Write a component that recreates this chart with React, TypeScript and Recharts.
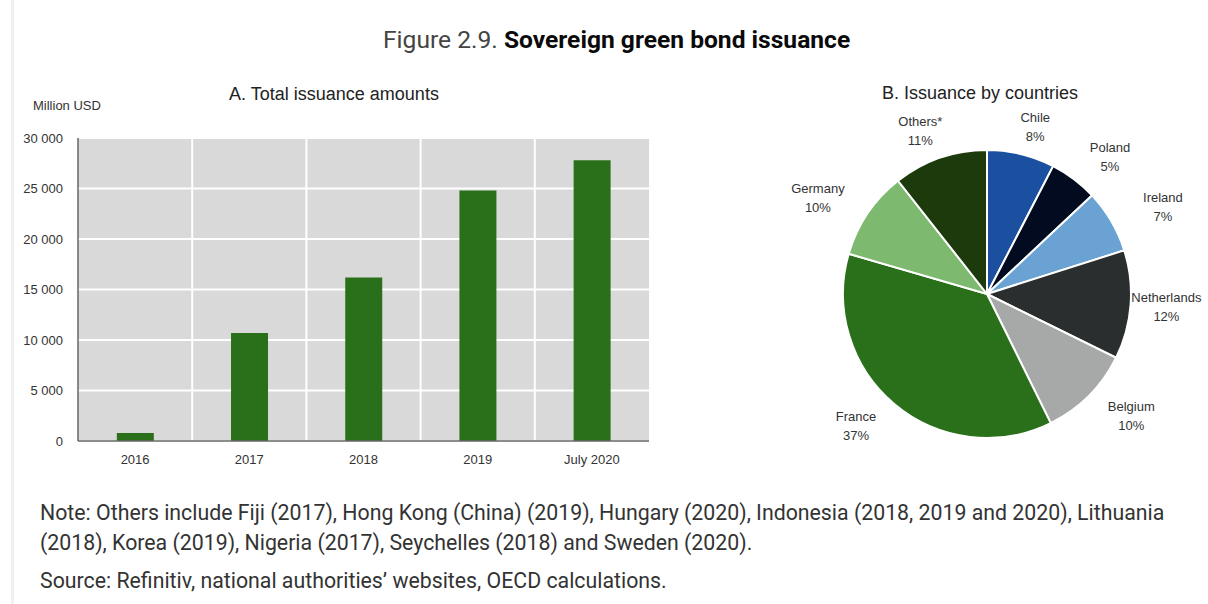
import { BarChart, Bar, XAxis, YAxis, CartesianGrid, PieChart, Pie, Cell } from 'recharts'

// Panel A: total issuance, million USD
const years = ['2016', '2017', '2018', '2019', 'July 2020']
const issuance = [800, 10700, 16200, 24800, 27800]
const yTicks = [0, 5000, 10000, 15000, 20000, 25000, 30000]

// Panel B: share by country, %
const countries = ['Chile', 'Poland', 'Ireland', 'Netherlands', 'Belgium', 'France', 'Germany', 'Others*']
const shares = [7.6, 5.4, 7.1, 12.2, 10.4, 36.8, 9.9, 10.6]
const shareLabels = ['8%', '5%', '7%', '12%', '10%', '37%', '10%', '11%']
const sliceColors = ['#1b50a1', '#020b1f', '#6aa2d3', '#2b2e2f', '#a6a9a7', '#2a701b', '#7db96f', '#1d3a0c']

const barData = years.map((year, i) => ({ year, value: issuance[i] }))
const pieData = countries.map((name, i) => ({ name, value: shares[i], pct: shareLabels[i] }))

const narrow = "'Liberation Sans Narrow', 'Arial Narrow', 'Liberation Sans', sans-serif"
const roboto = "Roboto, 'Noto Sans', sans-serif"

const fmt = (v: number) => v.toLocaleString('en-US').replace(/,/g, ' ')

const RAD = Math.PI / 180

function PieLabel(props: any) {
  const { cx, cy, midAngle, payload } = props
  // labels sit on an ellipse round the pie, wider than tall
  let x = cx + 204 * Math.cos(-midAngle * RAD)
  const y = cy + 172 * Math.sin(-midAngle * RAD)
  // keep the long right-hand label inside the page
  const half = payload.name.length * 3.6
  x = Math.min(x, 1208 - 760 - half - 2)
  return (
    <text x={x} y={y} textAnchor="middle" fill="#333" fontSize={13} fontFamily={narrow}>
      <tspan x={x} dy={-5}>{payload.name}</tspan>
      <tspan x={x} dy={19}>{payload.pct}</tspan>
    </text>
  )
}

export default function App() {
  return (
    <div style={{ position: 'absolute', left: 0, top: 0, width: 1208, height: 604, background: '#fff', overflow: 'hidden' }}>
      <div style={{ position: 'absolute', left: 11, top: 0, width: 3, height: 604, background: '#f3efeb' }} />

      <div style={{ position: 'absolute', left: 383, top: 25, whiteSpace: 'nowrap', fontFamily: roboto, fontSize: 24.6, color: '#444' }}>
        Figure 2.9. <span style={{ fontWeight: 700, color: '#0a0a0a' }}>Sovereign green bond issuance</span>
      </div>

      <div style={{ position: 'absolute', left: 0, top: 84, width: 668, textAlign: 'center', fontFamily: narrow, fontSize: 18, color: '#222' }}>
        A. Total issuance amounts
      </div>
      <div style={{ position: 'absolute', left: 33, top: 98, fontFamily: narrow, fontSize: 13, color: '#333' }}>
        Million USD
      </div>

      <div style={{ position: 'absolute', left: 0, top: 0 }}>
        <BarChart width={660} height={480} data={barData} margin={{ top: 138, right: 11, bottom: 14, left: 0 }} barCategoryGap="34%">
          <CartesianGrid
            fill="#d9d9d9"
            stroke="#fff"
            strokeWidth={2}
            verticalCoordinatesGenerator={({ offset }: any) =>
              years.slice(1).map((_, i) => offset.left + ((i + 1) * offset.width) / years.length)
            }
          />
          <XAxis
            dataKey="year"
            height={25}
            tickSize={0}
            tickMargin={14}
            tick={{ fill: '#333', fontSize: 13, fontFamily: narrow }}
            axisLine={{ stroke: '#666', strokeWidth: 1.5 }}
          />
          <YAxis
            width={78}
            domain={[0, 30000]}
            ticks={yTicks}
            tickFormatter={fmt}
            tickSize={0}
            tickMargin={15}
            tick={{ fill: '#333', fontSize: 13, fontFamily: narrow }}
            axisLine={{ stroke: '#666', strokeWidth: 1.5 }}
          />
          <Bar dataKey="value" fill="#2a701b" isAnimationActive={false} />
        </BarChart>
      </div>

      <div style={{ position: 'absolute', left: 756, top: 83, width: 448, textAlign: 'center', fontFamily: narrow, fontSize: 18, color: '#222' }}>
        B. Issuance by countries
      </div>

      <div style={{ position: 'absolute', left: 760, top: 80 }}>
        <PieChart width={500} height={400} margin={{ top: 0, right: 0, bottom: 0, left: 0 }}>
          <Pie
            data={pieData}
            dataKey="value"
            cx={227}
            cy={214}
            outerRadius={144}
            startAngle={90}
            endAngle={-270}
            stroke="#fff"
            strokeWidth={2}
            label={PieLabel}
            labelLine={false}
            isAnimationActive={false}
          >
            {pieData.map((d, i) => (
              <Cell key={d.name} fill={sliceColors[i]} />
            ))}
          </Pie>
        </PieChart>
      </div>

      <div style={{ position: 'absolute', left: 40, top: 498, whiteSpace: 'nowrap', fontFamily: roboto, fontSize: 21.3, lineHeight: '30px', color: '#333' }}>
        <div>Note: Others include Fiji (2017), Hong Kong (China) (2019), Hungary (2020), Indonesia (2018, 2019 and 2020), Lithuania</div>
        <div>(2018), Korea (2019), Nigeria (2017), Seychelles (2018) and Sweden (2020).</div>
        <div style={{ marginTop: 8 }}>Source: Refinitiv, national authorities’ websites, OECD calculations.</div>
      </div>
    </div>
  )
}
